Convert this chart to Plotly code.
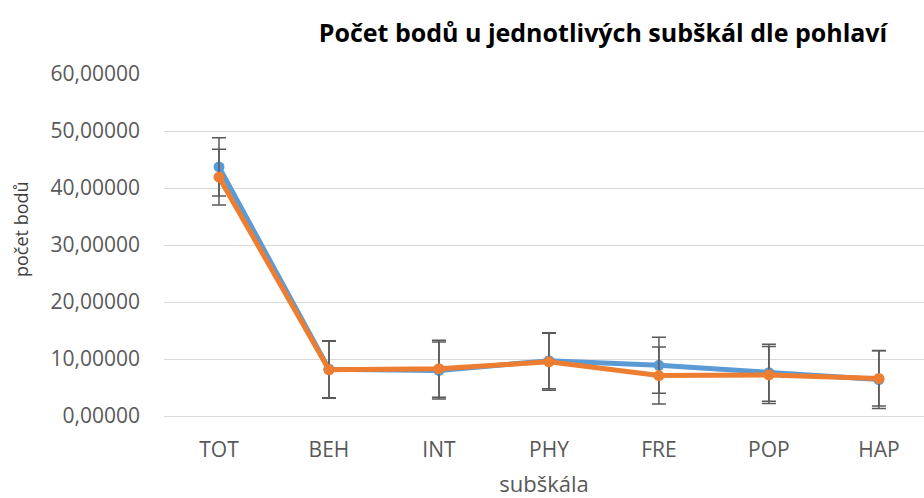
import plotly.graph_objects as go

categories = ["TOT", "BEH", "INT", "PHY", "FRE", "POP", "HAP"]
blue_values = [43.7, 8.2, 8.0, 9.7, 8.9, 7.6, 6.4]
blue_sd = [5.1, 5.0, 5.0, 4.9, 4.9, 5.0, 5.1]
orange_values = [41.9, 8.1, 8.3, 9.5, 7.1, 7.2, 6.6]
orange_sd = [4.9, 5.0, 5.0, 5.0, 5.0, 5.0, 4.85]

title_text = "Počet bodů u jednotlivých subškál dle pohlaví"
ytitle = "počet bodů"
xtitle = "subškála"

font_family = "Open Sans, Noto Sans, sans-serif"
gray = "#595959"

fig = go.Figure()
for vals, sd, col in [(blue_values, blue_sd, "#5B9BD5"), (orange_values, orange_sd, "#ED7D31")]:
    fig.add_trace(go.Scatter(
        x=categories, y=vals, mode="lines+markers",
        line=dict(color=col, width=5),
        marker=dict(color=col, size=11),
        error_y=dict(type="data", array=sd, visible=True, color=gray, thickness=1.5, width=7),
        showlegend=False,
    ))

fig.update_layout(
    width=924, height=498,
    margin=dict(l=164, r=0, t=74, b=82),
    paper_bgcolor="white", plot_bgcolor="white",
    separators=",.",
    font=dict(family=font_family, color=gray, size=21),
    title=dict(text="<b>" + title_text + "</b>", x=603/924, xanchor="center",
               y=1 - 33/498, yanchor="middle",
               font=dict(size=25, color="#000000", family=font_family)),
)
fig.update_yaxes(
    range=[0, 60], dtick=10, tickformat=".5f",
    showgrid=True, gridcolor="#D9D9D9", gridwidth=1,
    zeroline=True, zerolinecolor="#D9D9D9", zerolinewidth=1,
    showline=False, ticks="", ticklabelstandoff=23,
    tickfont=dict(size=21, color=gray),
)
fig.update_xaxes(
    range=[-0.5, 6.41], showgrid=False, showline=False, ticks="",
    ticklabelstandoff=19,
    tickfont=dict(size=21, color=gray),
    title=dict(text=xtitle, font=dict(size=22, color=gray), standoff=17),
)
fig.add_annotation(
    text=ytitle, textangle=-90, xref="paper", yref="paper",
    x=-143/760, y=(416 - 229) / 342, xanchor="center", yanchor="middle",
    showarrow=False, font=dict(size=18, color="#404040", family=font_family),
)

fig.write_html("out.html", config={"displayModeBar": False},
               post_script="document.body.style.margin='0px';")
